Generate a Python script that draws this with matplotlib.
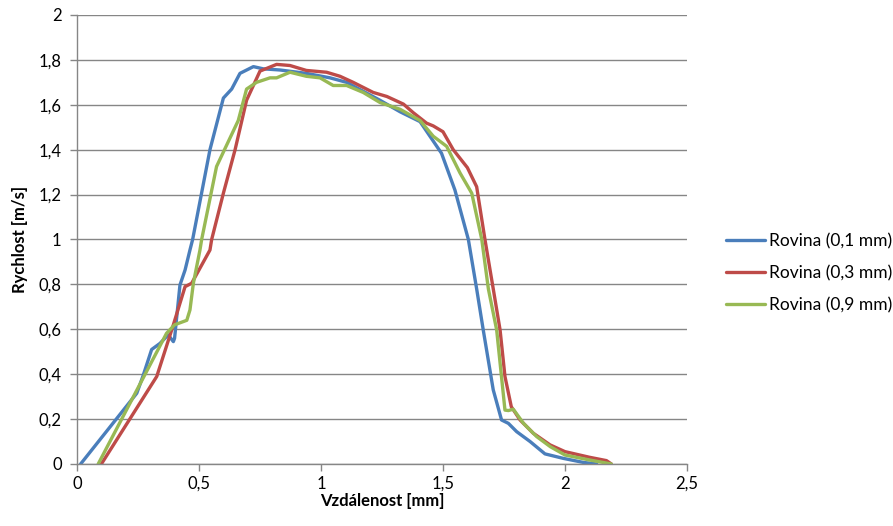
import matplotlib
matplotlib.use("Agg")
import matplotlib.pyplot as plt
from matplotlib.ticker import FixedLocator, FuncFormatter

plt.rcParams['font.family'] = ['Lato', 'DejaVu Sans']

# Data
blue_x = [0.015, 0.245, 0.27, 0.306, 0.34, 0.374, 0.395, 0.40, 0.422, 0.443, 0.463, 0.474,
          0.545, 0.60, 0.634, 0.668, 0.723, 0.764, 0.832, 0.94, 1.037, 1.105, 1.242, 1.324,
          1.406, 1.494, 1.549, 1.604, 1.638, 1.665, 1.706, 1.74, 1.768, 1.802, 1.857, 1.918,
          1.993, 2.075, 2.13]
blue_y = [0.0, 0.315, 0.39, 0.51, 0.537, 0.575, 0.545, 0.56, 0.797, 0.864, 0.953, 1.0,
          1.40, 1.63, 1.67, 1.74, 1.77, 1.76, 1.755, 1.74, 1.72, 1.70, 1.62, 1.569,
          1.525, 1.384, 1.22, 1.0, 0.78, 0.597, 0.33, 0.196, 0.181, 0.144, 0.10, 0.045,
          0.025, 0.007, 0.0]

red_x = [0.10, 0.327, 0.395, 0.443, 0.47, 0.545, 0.552, 0.60, 0.648, 0.695, 0.75, 0.818,
         0.873, 0.94, 1.023, 1.078, 1.132, 1.214, 1.27, 1.338, 1.378, 1.433, 1.46, 1.50,
         1.542, 1.60, 1.638, 1.672, 1.706, 1.734, 1.754, 1.78, 1.816, 1.87, 1.939, 2.0, 2.10,
         2.17, 2.19]
red_y = [0.0, 0.39, 0.62, 0.79, 0.805, 0.953, 1.0, 1.206, 1.40, 1.62, 1.75, 1.78,
         1.775, 1.753, 1.745, 1.727, 1.70, 1.655, 1.637, 1.603, 1.565, 1.518, 1.506, 1.48,
         1.40, 1.32, 1.235, 1.0, 0.78, 0.597, 0.39, 0.255, 0.196, 0.137, 0.085, 0.055, 0.03,
         0.015, 0.0]

green_x = [0.087, 0.367, 0.40, 0.45, 0.463, 0.477, 0.504, 0.511, 0.572, 0.661, 0.695, 0.736,
           0.791, 0.818, 0.873, 0.94, 0.996, 1.05, 1.105, 1.173, 1.242, 1.324, 1.406, 1.46,
           1.515, 1.57, 1.618, 1.659, 1.686, 1.72, 1.754, 1.768, 1.788, 1.83, 1.884, 1.94,
           2.0, 2.10, 2.19]
green_y = [0.0, 0.582, 0.62, 0.64, 0.686, 0.805, 0.953, 1.0, 1.325, 1.53, 1.67, 1.70,
           1.72, 1.72, 1.745, 1.727, 1.72, 1.686, 1.686, 1.655, 1.61, 1.58, 1.53, 1.46,
           1.415, 1.296, 1.206, 1.0, 0.78, 0.597, 0.24, 0.238, 0.244, 0.181, 0.122, 0.077,
           0.04, 0.018, 0.0]

series = [
    ("Rovina (0,1 mm)", blue_x, blue_y, "#4A7EBB"),
    ("Rovina (0,3 mm)", red_x, red_y, "#BE4B48"),
    ("Rovina (0,9 mm)", green_x, green_y, "#98B954"),
]

x_ticks = [0, 0.5, 1, 1.5, 2, 2.5]
y_ticks = [0, 0.2, 0.4, 0.6, 0.8, 1.0, 1.2, 1.4, 1.6, 1.8, 2.0]

fig = plt.figure(figsize=(8.93, 5.26), dpi=100)
ax = fig.add_axes([0.0862, 0.1179, 0.6831, 0.8536])

for label, xs, ys, c in series:
    ax.plot(xs, ys, color=c, lw=2.4, label=label, solid_joinstyle='round', solid_capstyle='round')

ax.set_xlim(0, 2.5)
ax.set_ylim(0, 2)
ax.xaxis.set_major_locator(FixedLocator(x_ticks))
ax.yaxis.set_major_locator(FixedLocator(y_ticks))
fmt = FuncFormatter(lambda v, p: ("%g" % round(v, 2)).replace(".", ","))
ax.xaxis.set_major_formatter(fmt)
ax.yaxis.set_major_formatter(fmt)

ax.grid(axis='y', color='#868686', lw=1.0)
ax.set_axisbelow(True)
for s in ['top', 'right']:
    ax.spines[s].set_visible(False)
for s in ['left', 'bottom']:
    ax.spines[s].set_color('#868686')
    ax.spines[s].set_linewidth(1.0)
ax.tick_params(axis='both', colors='#868686', labelcolor='#000000', labelsize=12,
               length=5, width=1.0, direction='out')
ax.tick_params(axis='y', pad=6)

ax.set_xlabel("Vzdálenost [mm]", fontsize=12, fontweight='bold', labelpad=1)
ax.set_ylabel("Rychlost [m/s]", fontsize=12, fontweight='bold', labelpad=8)

leg = ax.legend(loc='center left', bbox_to_anchor=(1.039, 0.425), frameon=False,
                fontsize=12.5, handlelength=2.2, handletextpad=0.23, labelspacing=0.9)

fig.savefig("out.png", dpi=100)
